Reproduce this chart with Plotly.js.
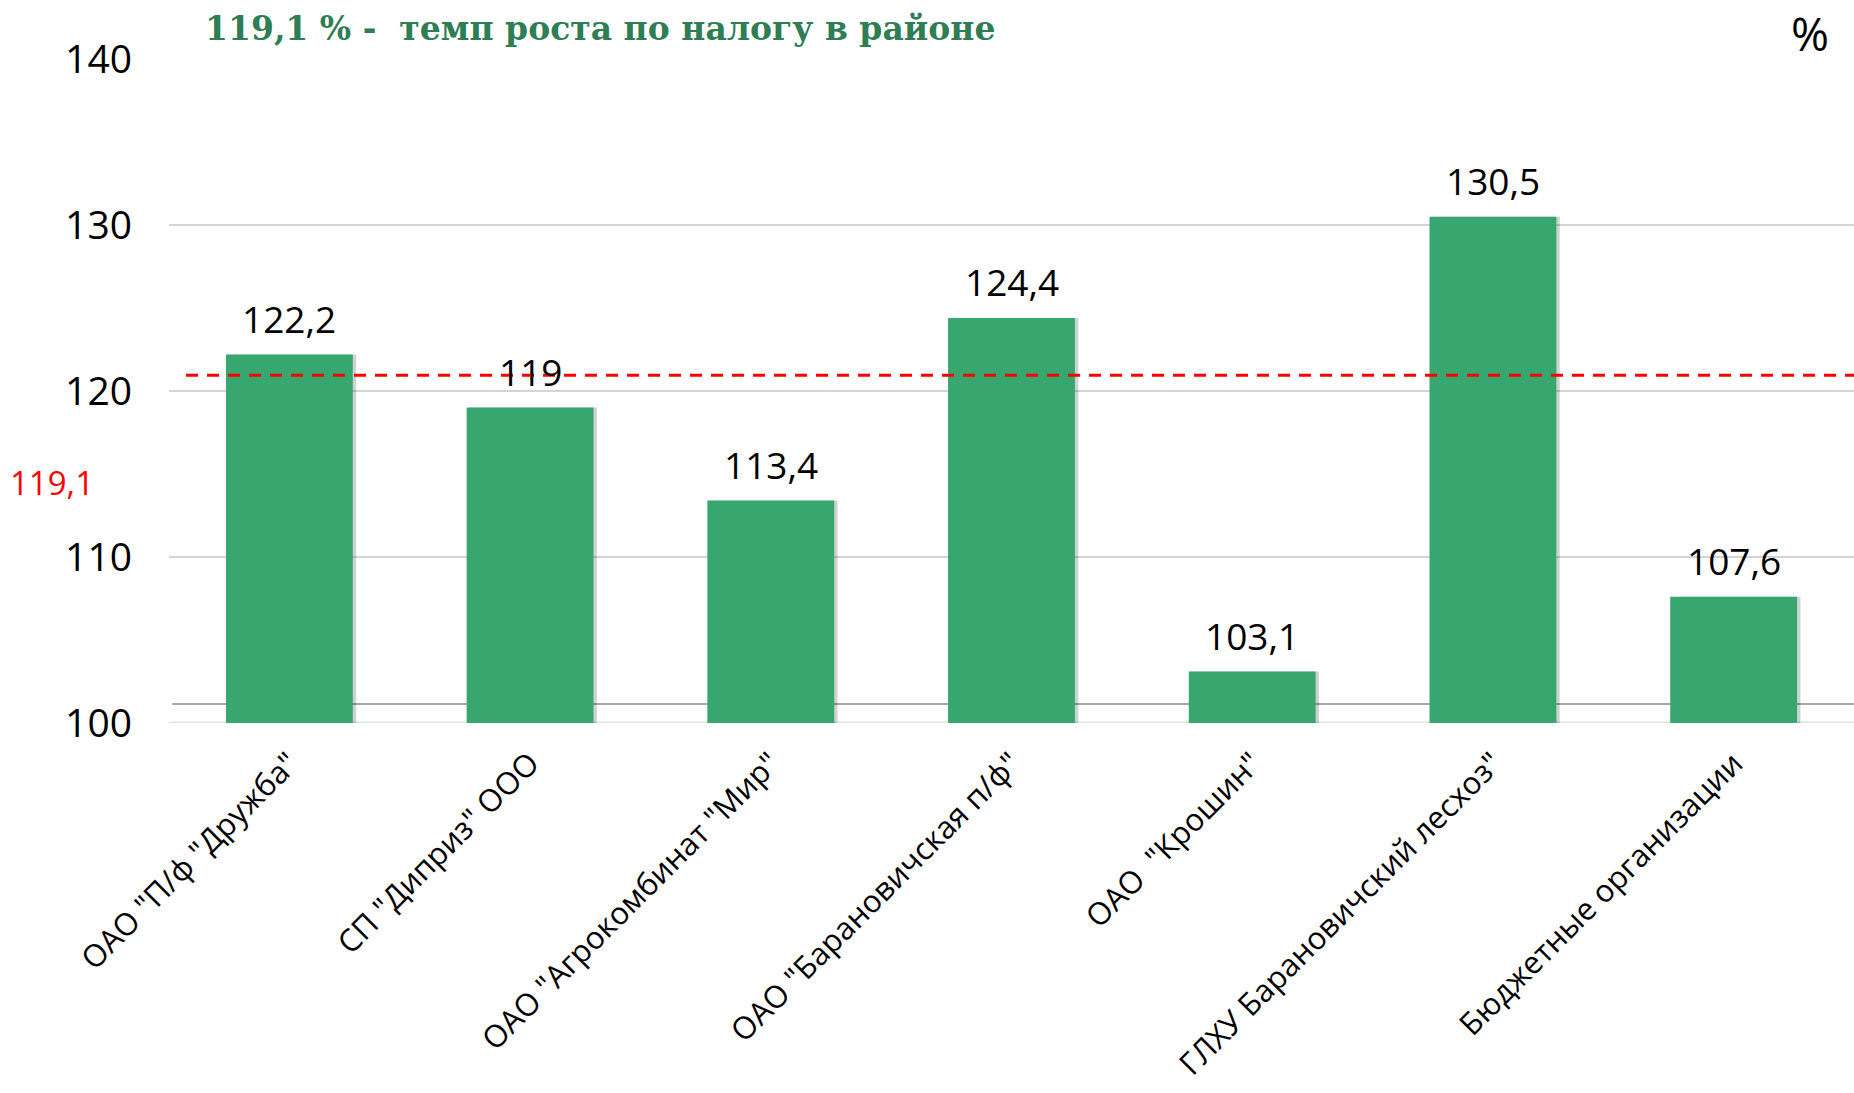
<!DOCTYPE html>
<html>
<head>
<meta charset="utf-8">
<script src="https://cdn.plot.ly/plotly-3.0.1.min.js"></script>
<style>html,body{margin:0;padding:0;background:#fff;}#chart{width:1854px;height:1093px;}</style>
</head>
<body>
<div id="chart"></div>
<script>
// ---- data ----
const categories = [
  'ОАО "П/ф "Дружба"',
  'СП "Диприз" ООО',
  'ОАО "Агрокомбинат "Мир"',
  'ОАО "Барановичская п/ф"',
  'ОАО  "Крошин"',
  'ГЛХУ Барановичский лесхоз"',
  'Бюджетные организации'
];
const values = [122.2, 119, 113.4, 124.4, 103.1, 130.5, 107.6];
const valueLabels = ['122,2', '119', '113,4', '124,4', '103,1', '130,5', '107,6'];
const yTicks = [100, 110, 120, 130, 140];
const districtRateLabel = '119,1';
const districtLineLevel = 120.95;   // where the dashed reference line is drawn
const titleText = '119,1 % -  темп роста по налогу в районе';

// ---- chart ----
const barColor = '#38a76f';
const shadow = {
  type: 'bar', x: categories, y: values, width: 0.527, offset: -0.2635 + 0.014,
  marker: {color: 'rgba(0,0,0,0.18)'}, hoverinfo: 'skip', showlegend: false
};
const bars = {
  type: 'bar', x: categories, y: values, width: 0.527,
  marker: {color: barColor}, showlegend: false
};

const labelAnnotations = categories.map((c, i) => ({
  x: c, y: values[i], xref: 'x', yref: 'y', text: valueLabels[i],
  showarrow: false, yanchor: 'middle', yshift: 36,
  font: {family: 'Open Sans, sans-serif', size: 37, color: '#000'}
}));

const layout = {
  width: 1854, height: 1093,
  margin: {l: 169, r: 0, t: 59, b: 370},
  paper_bgcolor: '#fff', plot_bgcolor: '#fff',
  barmode: 'overlay',
  title: {
    text: '<b>' + titleText + '</b>',
    x: 205 / 1854, xanchor: 'left', y: 1 - 28 / 1093, yanchor: 'middle',
    font: {family: 'DejaVu Serif, serif', size: 33, color: '#2e7d55'}
  },
  xaxis: {
    tickangle: -45, showgrid: false, zeroline: false, showline: false,
    ticks: '', ticklabelstandoff: 15,
    tickfont: {family: 'Open Sans, sans-serif', size: 31, color: '#000'},
    range: [-0.5, 6.5]
  },
  yaxis: {
    range: [100, 140], tickvals: yTicks, ticktext: yTicks.map(String),
    showgrid: true, gridcolor: '#d4d4d4', gridwidth: 2,
    zeroline: false, showline: false, ticks: '', ticklabelstandoff: 36,
    tickfont: {family: 'Open Sans, sans-serif', size: 39, color: '#000'}
  },
  shapes: [
    {type: 'line', xref: 'paper', yref: 'y', x0: 0.002, x1: 1, y0: 101.15, y1: 101.15,
     line: {color: '#a6a6a6', width: 2}, layer: 'below'},
    {type: 'line', xref: 'paper', yref: 'y', x0: 0, x1: 1, y0: 100, y1: 100,
     line: {color: '#dde3e0', width: 3}, layer: 'below'},
    {type: 'line', xref: 'paper', yref: 'y', x0: 0.0101, x1: 1, y0: districtLineLevel, y1: districtLineLevel,
     line: {color: '#ff0000', width: 3, dash: '12px,9px'}, layer: 'above'}
  ],
  annotations: labelAnnotations.concat([
    {xref: 'paper', yref: 'paper', x: -161 / 1685, y: (723 - 483) / 664, xanchor: 'left', yanchor: 'middle',
     text: districtRateLabel, showarrow: false,
     font: {family: 'Open Sans, sans-serif', size: 33, color: '#ff0000'}},
    {xref: 'paper', yref: 'paper', x: (1810 - 169) / 1685, y: (723 - 33) / 664, xanchor: 'center', yanchor: 'middle',
     text: '%', showarrow: false,
     font: {family: 'Open Sans, sans-serif', size: 46, color: '#000'}}
  ])
};

Plotly.newPlot('chart', [shadow, bars], layout, {displayModeBar: false, staticPlot: true});
</script>
</body>
</html>
